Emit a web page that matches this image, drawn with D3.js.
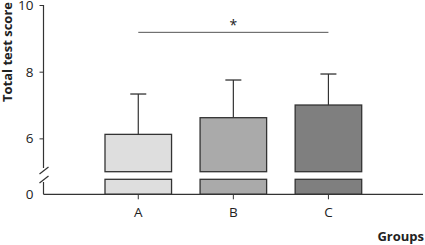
<!DOCTYPE html>
<html><head><meta charset="utf-8">
<script src="https://cdn.jsdelivr.net/npm/d3@7"></script>
<style>body{margin:0;background:#fff}svg{display:block}text{font-family:"Open Sans",sans-serif;fill:#222}</style>
</head><body><svg id="c" width="425" height="245"></svg>
<script>
const categories = ["A","B","C"];
const means = [6.12, 6.62, 7.0];
const errTop = [7.33, 7.75, 7.93];
const colors = ["#dedede","#aaaaaa","#7f7f7f"];
const yTicksUpper = [6, 8, 10];
const yTicksLower = [0];
const sigLevel = 9.18;
const sigLabel = "*";

const svg = d3.select("#c");
const x0 = 43.5;
const x = d3.scaleBand().domain(categories).range([105, 361.7]).paddingInner(0.3).paddingOuter(0);
const yU = d3.scaleLinear().domain([5, 10]).range([171.7, 5]);
const yL = d3.scaleLinear().domain([0, 1]).range([194.3, 179.3]);
const stroke = "#333";

// bars
categories.forEach((c, i) => {
  const bx = x(c), bw = x.bandwidth(), cx = bx + bw/2;
  svg.append("rect").attr("x", bx).attr("y", yU(means[i])).attr("width", bw)
    .attr("height", yU(5) - yU(means[i])).attr("fill", colors[i]).attr("stroke", stroke).attr("stroke-width", 1.3);
  svg.append("rect").attr("x", bx).attr("y", yL(1)).attr("width", bw)
    .attr("height", yL(0) - yL(1)).attr("fill", colors[i]).attr("stroke", stroke).attr("stroke-width", 1.3);
  svg.append("line").attr("x1", cx).attr("x2", cx).attr("y1", yU(means[i])).attr("y2", yU(errTop[i]))
    .attr("stroke", stroke).attr("stroke-width", 1.2);
  svg.append("line").attr("x1", cx - 8).attr("x2", cx + 8).attr("y1", yU(errTop[i])).attr("y2", yU(errTop[i]))
    .attr("stroke", stroke).attr("stroke-width", 1.3);
});

// y axis
const fmt = d3.format("d");
const axU = svg.append("g").attr("transform", `translate(${x0},0)`)
  .call(d3.axisLeft(yU).tickValues(yTicksUpper).tickFormat(fmt).tickSize(4).tickPadding(6).tickSizeOuter(0));
const axL = svg.append("g").attr("transform", `translate(${x0},0)`)
  .call(d3.axisLeft(yL).tickValues(yTicksLower).tickFormat(fmt).tickSize(0).tickPadding(10).tickSizeOuter(0));
[axU, axL].forEach(a => {
  a.select(".domain").remove();
  a.selectAll("line").attr("stroke", stroke);
  a.selectAll("text").style("font-size", "13.5px").attr("fill", "#222");
});
svg.append("line").attr("x1", x0).attr("x2", x0).attr("y1", yU(10)).attr("y2", 168).attr("stroke", stroke).attr("stroke-width", 1.2);
svg.append("line").attr("x1", x0).attr("x2", x0).attr("y1", 182).attr("y2", yL(0)).attr("stroke", stroke).attr("stroke-width", 1.2);
// break marks
svg.append("line").attr("x1", x0 - 4).attr("x2", x0 + 5).attr("y1", 174).attr("y2", 167).attr("stroke", stroke).attr("stroke-width", 1.2);
svg.append("line").attr("x1", x0 - 4).attr("x2", x0 + 5).attr("y1", 183).attr("y2", 176).attr("stroke", stroke).attr("stroke-width", 1.2);

// x axis
const xAxis = svg.append("g").attr("transform", `translate(0,${yL(0)})`)
  .call(d3.axisBottom(x).tickSize(5).tickPadding(8).tickSizeOuter(0));
xAxis.select(".domain").remove();
xAxis.selectAll("line").attr("stroke", stroke);
xAxis.selectAll("text").style("font-size", "13.5px").attr("fill", "#222");
svg.append("line").attr("x1", x0).attr("x2", 423).attr("y1", yL(0)).attr("y2", yL(0)).attr("stroke", stroke).attr("stroke-width", 1.2);

// significance
const sx1 = x(categories[0]) + x.bandwidth()/2, sx2 = x(categories[2]) + x.bandwidth()/2;
svg.append("line").attr("x1", sx1).attr("x2", sx2).attr("y1", yU(sigLevel)).attr("y2", yU(sigLevel))
  .attr("stroke", "#555").attr("stroke-width", 1);
svg.append("text").attr("x", (sx1+sx2)/2).attr("y", yU(sigLevel) - 2).attr("text-anchor", "middle")
  .style("font-size", "14px").text(sigLabel);

// titles
svg.append("text").attr("transform", "translate(12,52) rotate(-90)").attr("text-anchor", "middle")
  .style("font-size", "13px").style("font-weight", "bold").text("Total test score");
svg.append("text").attr("x", 424).attr("y", 241).attr("text-anchor", "end")
  .style("font-size", "13px").style("font-weight", "bold").text("Groups");
</script></body></html>
